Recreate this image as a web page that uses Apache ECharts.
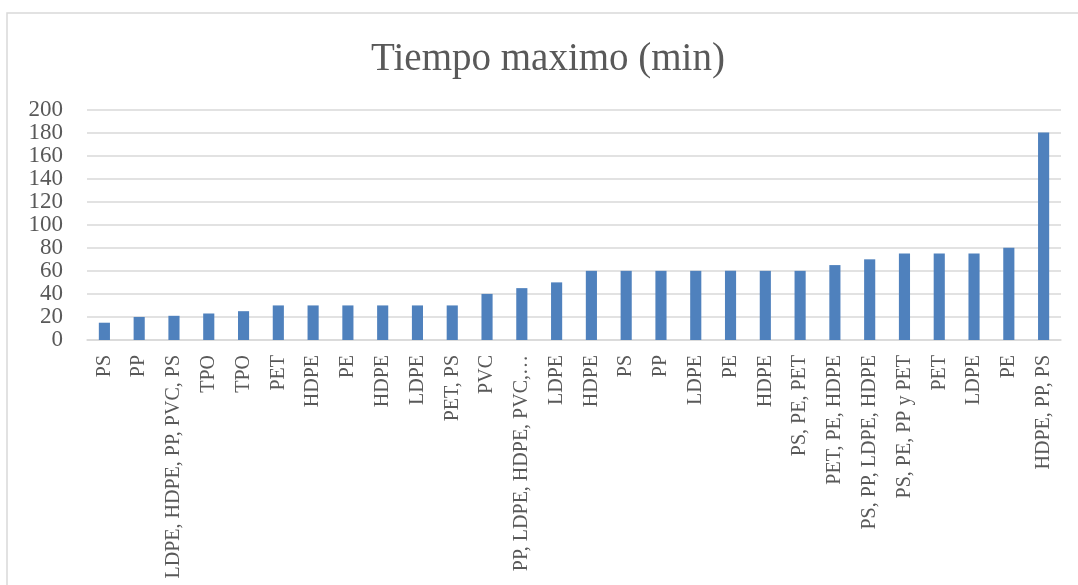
<!DOCTYPE html>
<html>
<head>
<meta charset="utf-8">
<style>
html,body{margin:0;padding:0;background:#fff;}
#c{width:1078px;height:585px;}
</style>
<script src="https://cdn.jsdelivr.net/npm/echarts@6/dist/echarts.min.js"></script>
</head>
<body>
<div id="c"></div>
<script>
var categories = ["PS","PP","LDPE, HDPE, PP, PVC, PS","TPO","TPO","PET","HDPE","PE","HDPE","LDPE","PET, PS","PVC","PP, LDPE, HDPE, PVC,…","LDPE","HDPE","PS","PP","LDPE","PE","HDPE","PS, PE, PET","PET, PE, HDPE","PS, PP, LDPE, HDPE","PS, PE, PP y PET","PET","LDPE","PE","HDPE, PP, PS"];
var tiempoMaximo = [15,20,21,23,25,30,30,30,30,30,30,40,45,50,60,60,60,60,60,60,60,65,70,75,75,75,80,180];
var yTicks = [0,20,40,60,80,100,120,140,160,180,200];

var chart = echarts.init(document.getElementById('c'), null, {renderer:'canvas'});
var serif = '"Liberation Serif", "DejaVu Serif", serif';
chart.setOption({
  animation:false,
  backgroundColor:'#ffffff',
  title:{
    text:'Tiempo maximo (min)',
    left:543,
    textAlign:'center',
    top:35,
    textStyle:{fontFamily:serif,fontSize:39,fontWeight:'normal',color:'#595959'}
  },
  graphic:[{
    type:'rect',
    shape:{x:7,y:13,width:1200,height:700},
    style:{fill:'none',stroke:'#D9D9D9',lineWidth:1.5},
    silent:true
  }],
  grid:{left:87,right:17,top:109.5,bottom:245,containLabel:false},
  xAxis:{
    type:'category',
    data:categories,
    axisLine:{show:true,lineStyle:{color:'#D9D9D9',width:1.5}},
    axisTick:{show:false},
    axisLabel:{
      rotate:90,
      interval:0,
      margin:15,
      fontFamily:serif,
      fontSize:20,
      color:'#595959'
    }
  },
  yAxis:{
    type:'value',
    min:yTicks[0],
    max:yTicks[yTicks.length-1],
    interval:yTicks[1]-yTicks[0],
    axisLine:{show:false},
    axisTick:{show:false},
    splitLine:{lineStyle:{color:'#D9D9D9',width:1.5}},
    axisLabel:{
      margin:24,
      fontFamily:serif,
      fontSize:23,
      color:'#595959'
    }
  },
  series:[{
    type:'bar',
    data:tiempoMaximo,
    barWidth:'32%',
    itemStyle:{color:'#4F81BD'}
  }]
});
</script>
</body>
</html>
